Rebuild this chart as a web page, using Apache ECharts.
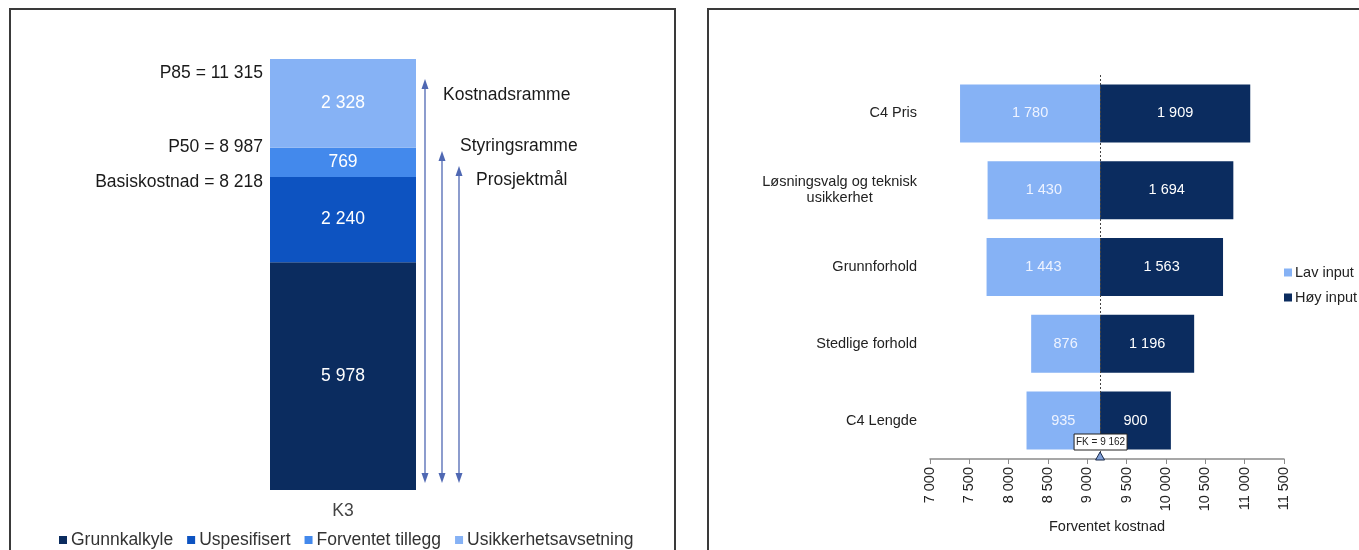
<!DOCTYPE html>
<html>
<head>
<meta charset="utf-8">
<script src="https://cdn.jsdelivr.net/npm/echarts@6/dist/echarts.min.js"></script>
<style>
  html, body { margin: 0; padding: 0; background: #fff; }
  #chart { width: 1359px; height: 550px; }
</style>
</head>
<body>
<div id="chart"></div>
<script>
// left panel: K3 cost build-up
const stackCategories = ['K3'];
const stackNames = ['Grunnkalkyle', 'Uspesifisert', 'Forventet tillegg', 'Usikkerhetsavsetning'];
const stackValues = [5978, 2240, 769, 2328];
const levelLabels = ['P85 = 11 315', 'P50 = 8 987', 'Basiskostnad = 8 218'];
const rangeLabels = ['Kostnadsramme', 'Styringsramme', 'Prosjektmål'];

// right panel: tornado around expected cost
const factors = ['C4 Pris', 'Løsningsvalg og teknisk usikkerhet', 'Grunnforhold', 'Stedlige forhold', 'C4 Lengde'];
const lowInput = [1780, 1430, 1443, 876, 935];
const highInput = [1909, 1694, 1563, 1196, 900];
const expectedCost = 9162;
const costMin = 7000;
const costMax = 11500;
const costStep = 500;

const navy = '#0b2c5f';
const stackColors = [navy, '#0d53c1', '#4389ec', '#86b2f5'];
const lowColor = '#86b2f5';
const arrowColor = '#4f68b3';
const font = 'Liberation Sans';
const bigFont = 17.5;
const smallFont = 14.5;

function fmt(v) {
  return String(v).replace(/\B(?=(\d{3})+(?!\d))/g, ' ');
}

function wrap(name) {
  if (name.length <= 24) return '{c|' + name + '}';
  const i = name.lastIndexOf(' ', 24);
  return '{c|' + name.slice(0, i) + '}\n{c|' + name.slice(i + 1) + '}';
}

const chart = echarts.init(document.getElementById('chart'));

const total = stackValues.reduce((a, b) => a + b, 0);
const tGrid = { left: 930, top: 75, width: 354, height: 384 };

const leftSeries = stackNames.map((n, i) => ({
  name: n,
  type: 'bar',
  stack: 'k3',
  xAxisIndex: 0,
  yAxisIndex: 0,
  barWidth: '100%',
  data: [stackValues[i]],
  itemStyle: { color: stackColors[i] },
  label: {
    show: true,
    position: 'inside',
    color: '#fff',
    fontSize: bigFont,
    formatter: (p) => fmt(p.value),
  },
}));

const rightSeries = [
  {
    type: 'bar',
    stack: 'tornado',
    xAxisIndex: 1,
    yAxisIndex: 1,
    barWidth: 58,
    silent: true,
    data: lowInput.map((v) => expectedCost - v),
    itemStyle: { color: 'transparent' },
  },
  {
    name: 'Lav input',
    type: 'bar',
    stack: 'tornado',
    xAxisIndex: 1,
    yAxisIndex: 1,
    barWidth: 58,
    data: lowInput,
    itemStyle: { color: lowColor },
    label: { show: true, position: 'inside', color: '#eef3ff', fontSize: smallFont, formatter: (p) => fmt(p.value) },
  },
  {
    name: 'Høy input',
    type: 'bar',
    stack: 'tornado',
    xAxisIndex: 1,
    yAxisIndex: 1,
    barWidth: 58,
    data: highInput,
    itemStyle: { color: navy },
    label: { show: true, position: 'inside', color: '#fff', fontSize: smallFont, formatter: (p) => fmt(p.value) },
    markLine: {
      silent: true,
      symbol: 'none',
      label: { show: false },
      lineStyle: { color: '#444', type: [2, 2], width: 1 },
      data: [{ xAxis: expectedCost }],
    },
  },
];

chart.setOption({
  animation: false,
  textStyle: { fontFamily: font },
  grid: [
    { left: 270, top: 59, width: 146, height: 431 },
    tGrid,
  ],
  legend: [
    {
      data: stackNames,
      left: 54,
      top: 526,
      icon: 'rect',
      itemWidth: 8,
      itemHeight: 8,
      itemGap: 14,
      textStyle: { fontSize: bigFont, color: '#333', padding: [0, 0, 0, -1] },
    },
    {
      data: ['Lav input', 'Høy input'],
      orient: 'vertical',
      left: 1279,
      top: 260,
      icon: 'rect',
      itemWidth: 8,
      itemHeight: 8,
      itemGap: 10,
      textStyle: { fontSize: smallFont, color: '#222', padding: [0, 0, 0, -2] },
    },
  ],
  xAxis: [
    {
      type: 'category',
      gridIndex: 0,
      data: stackCategories,
      axisLine: { show: false },
      axisTick: { show: false },
      axisLabel: { fontSize: bigFont, color: '#444', margin: 12 },
    },
    {
      type: 'value',
      gridIndex: 1,
      min: costMin,
      max: costMax,
      interval: costStep,
      axisLine: { show: true, lineStyle: { color: '#8a8a8a', width: 1.5 } },
      axisTick: { show: true, length: 5, lineStyle: { color: '#8a8a8a' } },
      splitLine: { show: false },
      axisLabel: { rotate: 90, fontSize: smallFont, color: '#222', margin: 8, formatter: fmt },
      name: 'Forventet kostnad',
      nameLocation: 'middle',
      nameGap: 58,
      nameTextStyle: { fontSize: smallFont, color: '#222' },
    },
  ],
  yAxis: [
    { type: 'value', gridIndex: 0, min: 0, max: total, show: false },
    {
      type: 'category',
      gridIndex: 1,
      inverse: true,
      data: factors,
      axisLine: { show: false },
      axisTick: { show: false },
      axisLabel: {
        margin: 13,
        formatter: wrap,
        rich: { c: { align: 'center', fontSize: smallFont, color: '#222', lineHeight: 16 } },
      },
    },
  ],
  series: leftSeries.concat(rightSeries),
});

// annotations: panel frames, level labels, range arrows, FK marker
function arrow(x, top, bottom) {
  return {
    type: 'group',
    children: [
      { type: 'line', shape: { x1: x, y1: top + 8, x2: x, y2: bottom - 8 }, style: { stroke: arrowColor, lineWidth: 1.3 } },
      { type: 'polygon', shape: { points: [[x, top], [x - 3.5, top + 10], [x + 3.5, top + 10]] }, style: { fill: arrowColor } },
      { type: 'polygon', shape: { points: [[x, bottom], [x - 3.5, bottom - 10], [x + 3.5, bottom - 10]] }, style: { fill: arrowColor } },
    ],
  };
}

function txt(text, x, y, size, align) {
  return {
    type: 'text',
    style: {
      text: text, x: x, y: y, fill: '#1a1a1a',
      font: size + 'px ' + font,
      align: align, textAlign: align,
      verticalAlign: 'middle', textVerticalAlign: 'middle',
    },
  };
}

const fkX = chart.convertToPixel({ xAxisIndex: 1 }, expectedCost);
const axisY = tGrid.top + tGrid.height;

chart.setOption({
  graphic: [
    { type: 'rect', shape: { x: 10, y: 9, width: 665, height: 580 }, style: { fill: 'none', stroke: '#3a3a3a', lineWidth: 2 } },
    { type: 'rect', shape: { x: 708, y: 9, width: 700, height: 580 }, style: { fill: 'none', stroke: '#3a3a3a', lineWidth: 2 } },
    txt(levelLabels[0], 263, 73, bigFont, 'right'),
    txt(levelLabels[1], 263, 147, bigFont, 'right'),
    txt(levelLabels[2], 263, 182, bigFont, 'right'),
    arrow(425, 79, 483),
    arrow(442, 151, 483),
    arrow(459, 166, 483),
    txt(rangeLabels[0], 443, 95, bigFont, 'left'),
    txt(rangeLabels[1], 460, 146, bigFont, 'left'),
    txt(rangeLabels[2], 476, 180, bigFont, 'left'),
    {
      type: 'rect',
      shape: { x: fkX - 26, y: 434, width: 53, height: 16 },
      style: { fill: '#fff', stroke: '#222', lineWidth: 1 },
      z: 100,
    },
    {
      type: 'text',
      z: 101,
      style: {
        text: 'FK = ' + fmt(expectedCost), x: fkX + 0.5, y: 442, fill: '#222',
        font: '10px ' + font, align: 'center', textAlign: 'center',
        verticalAlign: 'middle', textVerticalAlign: 'middle',
      },
    },
    {
      type: 'polygon',
      z: 101,
      shape: { points: [[fkX, axisY - 7], [fkX - 4.5, axisY + 1], [fkX + 4.5, axisY + 1]] },
      style: { fill: '#7f9fd8', stroke: '#1a2a4a', lineWidth: 1 },
    },
  ],
});
</script>
</body>
</html>
